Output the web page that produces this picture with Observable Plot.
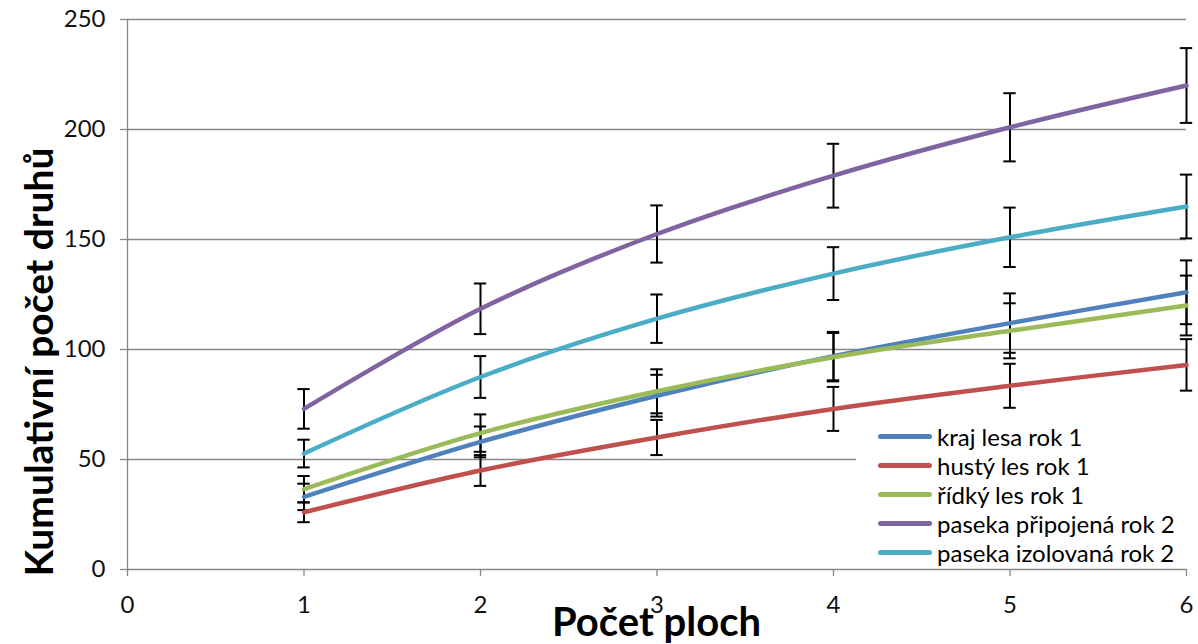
<!DOCTYPE html>
<html>
<head>
<meta charset="utf-8">
<script src="https://cdn.jsdelivr.net/npm/d3@7"></script>
<script src="https://cdn.jsdelivr.net/npm/@observablehq/plot@0.6"></script>
<style>
  html, body { margin: 0; padding: 0; background: #fff; }
  #wrap { position: relative; width: 1198px; height: 644px; overflow: hidden; font-family: Lato, "Open Sans", sans-serif; }
  #wrap svg { position: absolute; left: 0; top: 0; }
  #ytitle { position: absolute; left: 38px; top: 362px; transform: translate(-50%, -50%) rotate(-90deg); white-space: nowrap; font-weight: bold; font-size: 39px; line-height: 1; color: #000; }
  #xtitle { position: absolute; left: 127px; width: 1059px; top: 601px; text-align: center; font-weight: bold; font-size: 40px; line-height: 1; color: #000; }
  #legend { position: absolute; left: 856px; top: 422px; width: 330px; height: 142px; background: #fff; }
  .row { height: 29px; display: flex; align-items: center; font-size: 24px; color: #000; white-space: nowrap; }
  .swatch { width: 54px; height: 5px; border-radius: 3px; margin-left: 22px; margin-right: 5px; flex: none; }
</style>
</head>
<body>
<div id="wrap">
  <div id="ytitle">Kumulativní počet druhů</div>
  <div id="legend"></div>
  <div id="xtitle">Počet ploch</div>
</div>
<script>
// ---- data ----
const plots = [1, 2, 3, 4, 5, 6];
const seriesNames = ["kraj lesa rok 1", "hustý les rok 1", "řídký les rok 1", "paseka připojená rok 2", "paseka izolovaná rok 2"];
const seriesColors = ["#4F81BD", "#C0504D", "#9BBB59", "#8064A2", "#4BACC6"];
const krajLesa = [33, 58, 79, 97, 112, 126];
const krajLesaErr = [6, 7, 9.5, 11, 13.5, 14.5];
const hustyLes = [26, 45, 60, 73, 83.5, 93];
const hustyLesErr = [4.5, 7, 8, 10, 10, 11.7];
const ridkyLes = [36.5, 62, 81, 96.5, 108.5, 120];
const ridkyLesErr = [6, 8.5, 10, 11, 12.5, 13.6];
const pasekaPripojena = [73, 118.5, 152.5, 179, 201, 220];
const pasekaPripojenaErr = [9, 11.5, 13, 14.5, 15.5, 17];
const pasekaIzolovana = [52.7, 87.5, 114, 134.5, 151, 165];
const pasekaIzolovanaErr = [6.3, 9.5, 11, 12, 13.5, 14.5];
const yTicks = [0, 50, 100, 150, 200, 250];
const xTicks = [0, 1, 2, 3, 4, 5, 6];

const values = [krajLesa, hustyLes, ridkyLes, pasekaPripojena, pasekaIzolovana];
const errors = [krajLesaErr, hustyLesErr, ridkyLesErr, pasekaPripojenaErr, pasekaIzolovanaErr];
const data = [];
seriesNames.forEach((s, i) => {
  plots.forEach((x, j) => {
    const v = values[i][j], e = errors[i][j];
    data.push({series: s, x, y: v, lo: v - e, hi: v + e});
  });
});

const grid = "#878787";
const capHalf = 0.035;

const chart = Plot.plot({
  width: 1198,
  height: 644,
  marginLeft: 127,
  marginRight: 12,
  marginTop: 19,
  marginBottom: 75,
  style: {fontFamily: "Lato, 'Open Sans', sans-serif", fontSize: "24px", color: "#111", background: "transparent"},
  x: {domain: [0, 6]},
  y: {domain: [0, 250]},
  color: {domain: seriesNames, range: seriesColors},
  marks: [
    Plot.ruleY(yTicks, {stroke: grid, strokeWidth: 1.3}),
    Plot.ruleX([0], {stroke: grid, strokeWidth: 1.3}),
    Plot.axisY({ticks: yTicks, tickFormat: "d", tickSize: 7, tickPadding: 15, stroke: grid, strokeWidth: 1.3, label: null, fill: "#111", fontSize: 24}),
    Plot.axisX({ticks: xTicks, tickFormat: "d", tickSize: 7, tickPadding: 19, stroke: grid, strokeWidth: 1.3, label: null, fill: "#111", fontSize: 24}),
    Plot.ruleX(data, {x: "x", y1: "lo", y2: "hi", stroke: "#000", strokeWidth: 2}),
    Plot.ruleY(data, {y: "lo", x1: d => d.x - capHalf, x2: d => d.x + capHalf, stroke: "#000", strokeWidth: 2}),
    Plot.ruleY(data, {y: "hi", x1: d => d.x - capHalf, x2: d => d.x + capHalf, stroke: "#000", strokeWidth: 2}),
    Plot.line(data, {x: "x", y: "y", z: "series", stroke: "series", strokeWidth: 4.5, curve: "catmull-rom", strokeLinecap: "round", strokeLinejoin: "round"})
  ]
});
const wrap = document.getElementById("wrap");
wrap.insertBefore(chart, wrap.firstChild);

const legend = document.getElementById("legend");
seriesNames.forEach((s, i) => {
  const row = document.createElement("div");
  row.className = "row";
  const sw = document.createElement("div");
  sw.className = "swatch";
  sw.style.background = seriesColors[i];
  const t = document.createElement("span");
  t.textContent = s;
  row.appendChild(sw);
  row.appendChild(t);
  legend.appendChild(row);
});
</script>
</body>
</html>
